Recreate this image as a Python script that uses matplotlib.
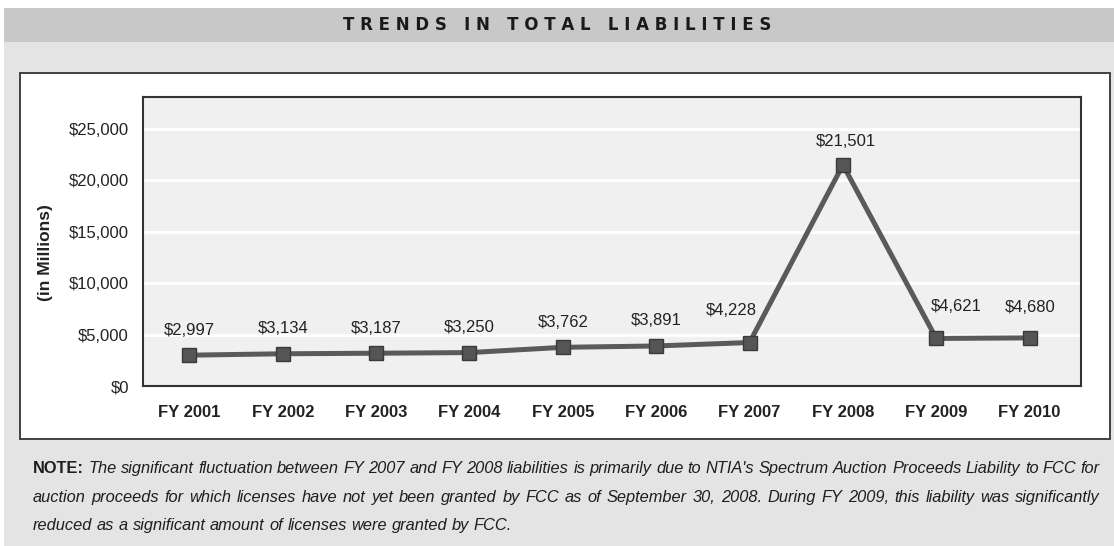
import matplotlib.pyplot as plt
from matplotlib.patches import Rectangle
from matplotlib import font_manager

years = ['FY 2001', 'FY 2002', 'FY 2003', 'FY 2004', 'FY 2005',
         'FY 2006', 'FY 2007', 'FY 2008', 'FY 2009', 'FY 2010']
liabilities = [2997, 3134, 3187, 3250, 3762, 3891, 4228, 21501, 4621, 4680]
value_labels = ['$2,997', '$3,134', '$3,187', '$3,250', '$3,762',
                '$3,891', '$4,228', '$21,501', '$4,621', '$4,680']
y_ticks = [0, 5000, 10000, 15000, 20000, 25000]
y_tick_labels = ['$0', '$5,000', '$10,000', '$15,000', '$20,000', '$25,000']

# where each value label sits relative to its marker (points)
label_offsets = [(0, 18), (0, 18), (0, 18), (0, 18), (0, 18),
                 (0, 18), (-13, 23), (2, 17), (14, 23), (0, 22)]

title = 'TRENDS IN TOTAL LIABILITIES'
note_lines = [
    "The significant fluctuation between FY 2007 and FY 2008 liabilities is primarily due to NTIA's Spectrum Auction Proceeds Liability to FCC for",
    "auction proceeds for which licenses have not yet been granted by FCC as of September 30, 2008. During FY 2009, this liability was significantly",
    "reduced as a significant amount of licenses were granted by FCC.",
]

# narrow font if we have it
names = {f.name for f in font_manager.fontManager.ttflist}
narrow = 'Liberation Sans Narrow' if 'Liberation Sans Narrow' in names else 'Liberation Sans'
plt.rcParams['font.family'] = [narrow, 'DejaVu Sans']

W, H = 1114, 546
fig = plt.figure(figsize=(W / 100, H / 100), dpi=100)
fig.patch.set_facecolor('white')


def px_box(x0, y0, x1, y1, **kw):
    # rectangle in pixel coords measured from the top left
    r = Rectangle((x0 / W, 1 - y1 / H), (x1 - x0) / W, (y1 - y0) / H,
                  transform=fig.transFigure, zorder=-10, **kw)
    fig.patches.append(r)


px_box(4, 42, W, H, facecolor='#e4e4e4', edgecolor='none')
px_box(4, 8, W, 42, facecolor='#c8c8c8', edgecolor='none')
px_box(20, 73, 1110, 439, facecolor='white', edgecolor='#333333', linewidth=1.3)

fig.text(557 / W, 1 - 25.5 / H, '   '.join(' '.join(w) for w in title.split()),
         ha='center', va='center', fontsize=12, fontweight='bold',
         color='#1a1a1a', family='DejaVu Sans')

# plot area
left, right, top, bottom = 142.7, 1081, 97, 386
ax = fig.add_axes([left / W, 1 - bottom / H, (right - left) / W, (bottom - top) / H])
ax.set_facecolor('#f0f0f0')
x = list(range(len(years)))
ax.plot(x, liabilities, color='#5a5a5a', linewidth=3.6, marker='s',
        markersize=9.5, markerfacecolor='#555555', markeredgecolor='#3a3a3a',
        markeredgewidth=1.0, zorder=3)
for xi, v, lab, off in zip(x, liabilities, value_labels, label_offsets):
    ax.annotate(lab, (xi, v), xytext=off, textcoords='offset points',
                ha='center', va='center', fontsize=12, color='#222222')

ax.set_xlim(-0.5, 9.55)
ax.set_ylim(0, 28100)
ax.set_yticks(y_ticks)
ax.set_yticklabels(y_tick_labels, fontsize=12, color='#222222')
ax.set_xticks(x)
ax.set_xticklabels(years, fontsize=12, fontweight='bold', color='#222222')
ax.tick_params(length=0, pad=10)
ax.tick_params(axis='x', pad=14)
ax.grid(axis='y', color='white', linewidth=2)
ax.set_axisbelow(True)
for s in ax.spines.values():
    s.set_color('#333333')
    s.set_linewidth(1.5)
ax.set_ylabel('(in Millions)', fontsize=12.5, fontweight='bold', color='#222222')
ax.yaxis.set_label_coords((53 - left) / (right - left), 0.46)

# note text, justified by hand
renderer = fig.canvas.get_renderer()
x_start, x_end = 33, 1100
line_y = [473, 502, 530]
fs = 11.8
for i, line in enumerate(note_lines):
    words = line.split(' ')
    items = []
    if i == 0:
        items.append(('NOTE:', dict(fontweight='bold', fontstyle='normal')))
    items += [(w, dict(fontstyle='italic')) for w in words]
    texts = []
    for w, st in items:
        t = fig.text(0, 1 - line_y[i] / H, w, fontsize=fs, color='#1e1e1e',
                     va='baseline', ha='left', **st)
        texts.append(t)
    widths = [t.get_window_extent(renderer).width for t in texts]
    if i < len(note_lines) - 1:
        gap = (x_end - x_start - sum(widths)) / (len(texts) - 1)
    else:
        gap = fs * 100 / 72 * 0.28
    xp = x_start
    for t, w in zip(texts, widths):
        t.set_x(xp / W)
        xp += w + gap

fig.savefig('out.png', dpi=100, facecolor=fig.get_facecolor())
